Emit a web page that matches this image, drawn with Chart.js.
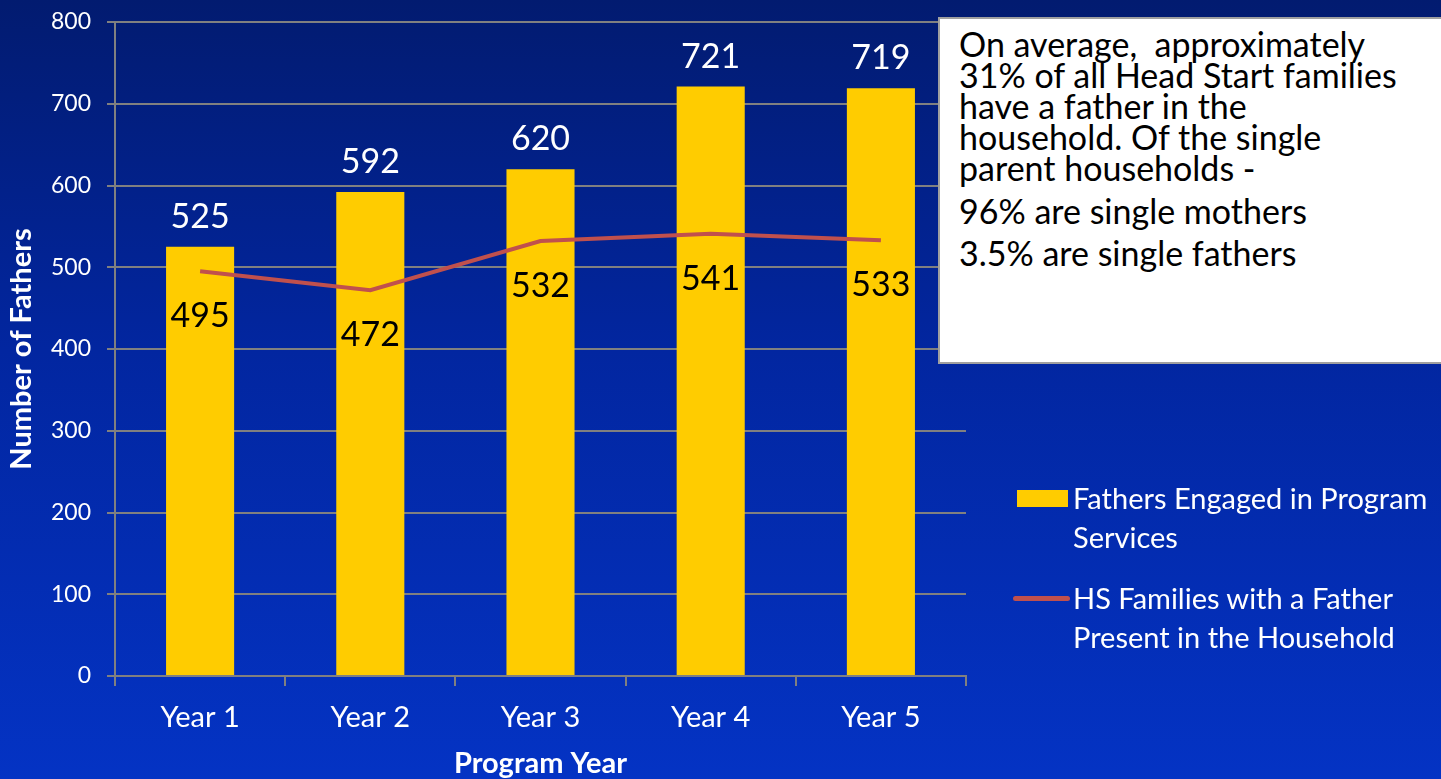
<!DOCTYPE html>
<html>
<head>
<meta charset="utf-8">
<script src="https://cdn.jsdelivr.net/npm/chart.js@4.4.1/dist/chart.umd.min.js"></script>
<style>
  html, body { margin: 0; padding: 0; }
  body {
    width: 1441px; height: 779px; overflow: hidden; position: relative;
    background: linear-gradient(to bottom, #021b70 0%, #0226a0 45%, #0433c4 100%);
    font-family: Lato, "Open Sans", sans-serif;
  }
  #wrap { position: absolute; left: 0; top: 0; width: 1441px; height: 779px; }
  #note {
    position: absolute; left: 938px; top: 17px; width: 520px; height: 347px;
    background: #fff; border: 2px solid #a0a0a0; box-sizing: border-box;
    padding: 9px 0 0 19px; color: #000; font-size: 34px;
  }
  #note p { margin: 0; line-height: 31px; white-space: nowrap; }
  #note p.gap { margin-top: 12px; line-height: 31px; }
  #note p.gap2 { margin-top: 11px; line-height: 31px; }
  #legend { position: absolute; left: 1015px; top: 478px; color: #fff; font-size: 29px; }
  .li { position: relative; padding-left: 58px; line-height: 39px; white-space: nowrap; }
  .sw { position: absolute; left: 0; }
</style>
</head>
<body>
<div id="wrap"><canvas id="c" width="1441" height="779"></canvas></div>
<div id="note">
  <p>On average,&nbsp; approximately</p>
  <p>31% of all Head Start families</p>
  <p>have a father in the</p>
  <p>household. Of the single</p>
  <p>parent households -</p>
  <p class="gap">96% are single mothers</p>
  <p class="gap2">3.5% are single fathers</p>
</div>
<div id="legend">
  <div class="li"><span class="sw" style="top:12px;left:2px;width:51px;height:17px;background:#FFCC00"></span>Fathers Engaged in Program<br>Services</div>
  <div class="li" style="margin-top:22px"><span class="sw" style="top:18px;left:-2px;width:57px;height:5px;border-radius:3px;background:#C0504D"></span>HS Families with a Father<br>Present in the Household</div>
</div>
<script>
const years = ['Year 1', 'Year 2', 'Year 3', 'Year 4', 'Year 5'];
const fathersEngaged = [525, 592, 620, 721, 719];
const fatherPresent = [495, 472, 532, 541, 533];
const yTicks = [0, 100, 200, 300, 400, 500, 600, 700, 800];

const FONT = 'Lato, "Open Sans", sans-serif';

// numbers above the bars (white) and under the line points (black)
const valueLabels = {
  id: 'valueLabels',
  afterDatasetsDraw(chart) {
    const ctx = chart.ctx;
    ctx.save();
    ctx.font = '34px ' + FONT;
    ctx.textAlign = 'center';
    ctx.textBaseline = 'alphabetic';
    const bars = chart.getDatasetMeta(0).data;
    ctx.fillStyle = '#ffffff';
    bars.forEach((el, i) => ctx.fillText(fathersEngaged[i], el.x, el.y - 19));
    const pts = chart.getDatasetMeta(1).data;
    ctx.fillStyle = '#000000';
    pts.forEach((el, i) => ctx.fillText(fatherPresent[i], el.x, el.y + 56));
    ctx.restore();
  }
};

new Chart(document.getElementById('c'), {
  data: {
    labels: years,
    datasets: [
      {
        type: 'bar',
        label: 'Fathers Engaged in Program Services',
        data: fathersEngaged,
        backgroundColor: '#FFCC00',
        categoryPercentage: 1,
        barPercentage: 0.4,
        order: 1
      },
      {
        type: 'line',
        label: 'HS Families with a Father Present in the Household',
        data: fatherPresent,
        borderColor: '#C0504D',
        borderWidth: 4,
        pointRadius: 0,
        tension: 0,
        order: 0
      }
    ]
  },
  options: {
    responsive: false,
    animation: false,
    events: [],
    layout: { padding: { top: 22, right: 475, left: 0, bottom: 0 } },
    plugins: { legend: { display: false }, tooltip: { enabled: false } },
    scales: {
      x: {
        offset: true,
        grid: { display: true, offset: true, drawOnChartArea: false, color: '#808080', lineWidth: 2, tickLength: 10 },
        border: { color: '#808080', width: 2 },
        ticks: { color: '#ffffff', font: { family: FONT, size: 29 }, padding: 14 },
        title: { display: true, text: 'Program Year', color: '#ffffff', font: { family: FONT, size: 29, weight: 'bold' }, padding: { top: 4, bottom: -2 } },
        afterFit(scale) { scale.height = 103; }
      },
      y: {
        min: 0, max: 800,
        afterBuildTicks(scale) { scale.ticks = yTicks.map(v => ({ value: v })); },
        grid: { color: '#808080', lineWidth: 2, tickLength: 8 },
        border: { color: '#808080', width: 2 },
        ticks: { color: '#ffffff', font: { family: FONT, size: 23 }, padding: 16 },
        title: { display: true, text: 'Number of Fathers', color: '#ffffff', font: { family: FONT, size: 29, weight: 'bold' }, padding: { top: 4, bottom: 14 } },
        afterFit(scale) { scale.width = 115; scale.paddingTop = 0; scale.paddingBottom = 0; }
      }
    }
  },
  plugins: [valueLabels]
});
</script>
</body>
</html>
